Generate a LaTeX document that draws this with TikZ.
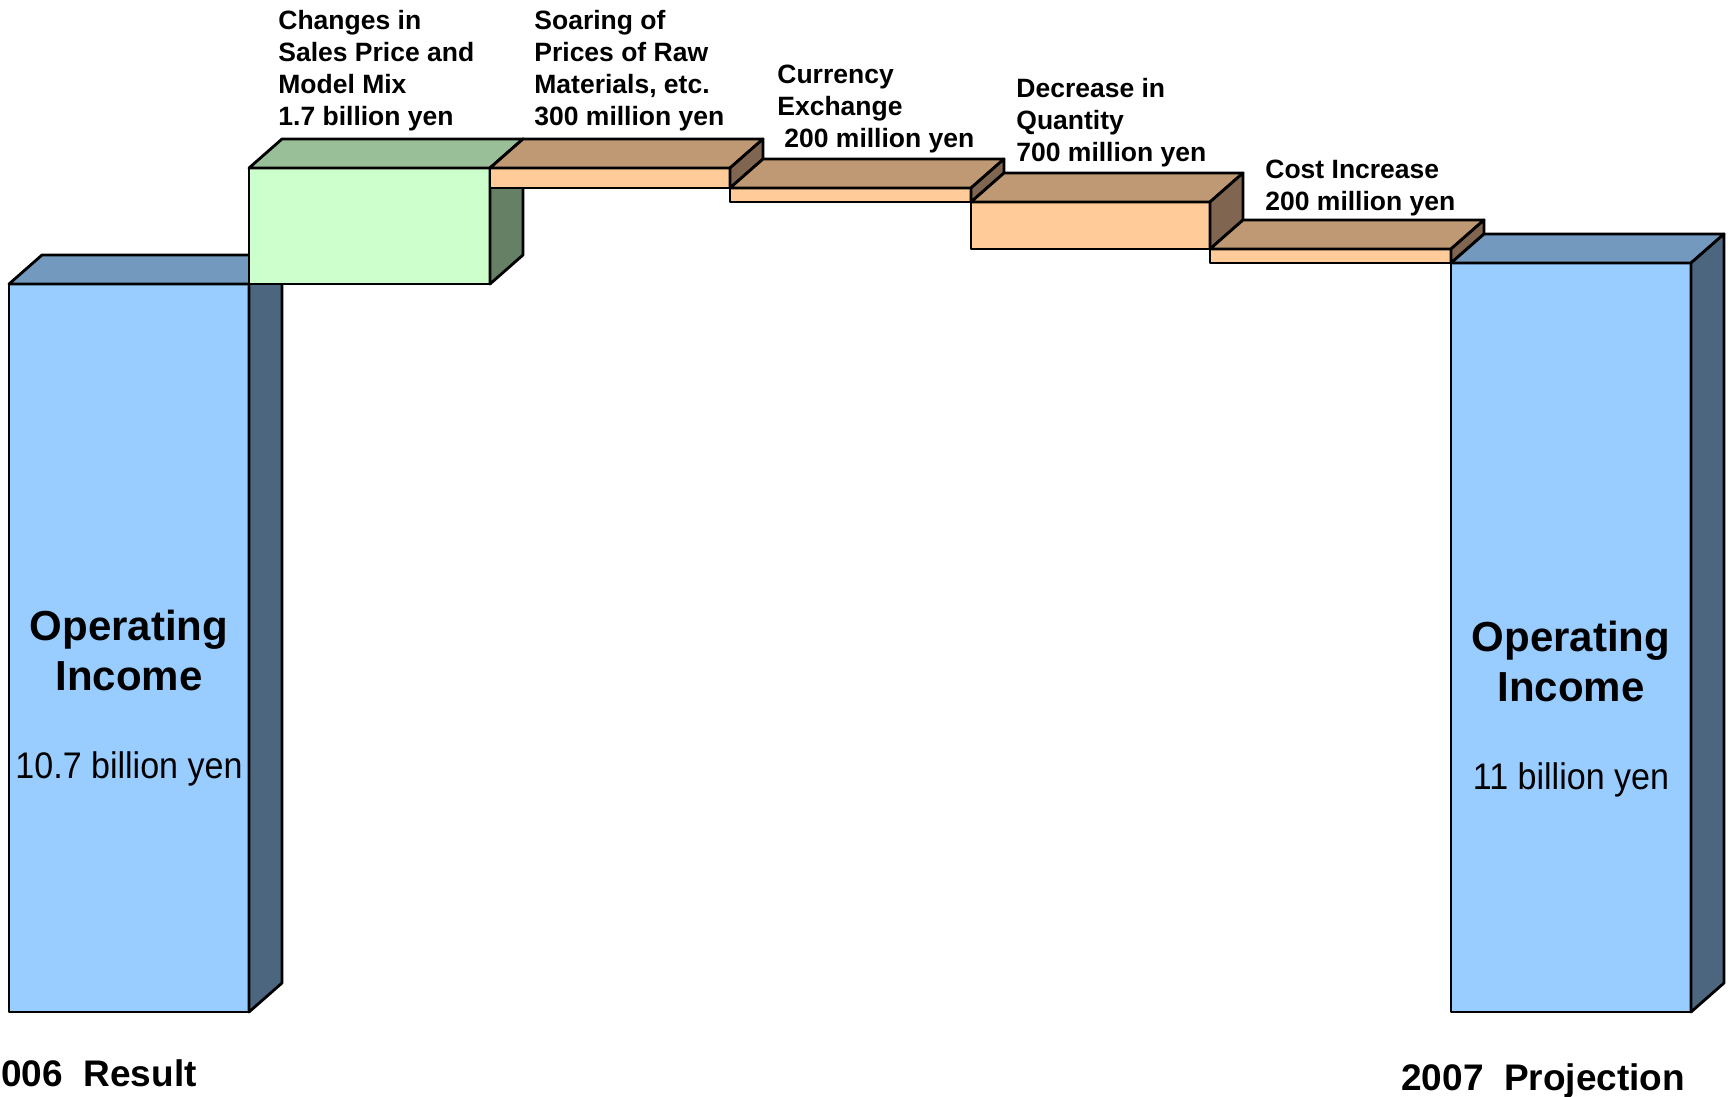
\documentclass[tikz,border=0pt]{standalone}
\usepackage{fontspec}
\setmainfont{Liberation Sans}
\newfontfamily\narrowfont[FakeStretch=0.92]{Liberation Sans}
\definecolor{bluefront}{HTML}{99CCFF}
\definecolor{bluetop}{HTML}{7399BF}
\definecolor{blueside}{HTML}{4D6680}
\definecolor{greenfront}{HTML}{CCFFCC}
\definecolor{greentop}{HTML}{99BF99}
\definecolor{greenside}{HTML}{668066}
\definecolor{orangefront}{HTML}{FFCC99}
\definecolor{browntop}{HTML}{BF9973}
\definecolor{brownside}{HTML}{806650}
% #1 left x, #2 top y, #3 right x, #4 bottom y, #5 front, #6 top, #7 side
\newcommand\drawcuboid[7]{%
  \filldraw[fill=#5] (#1,#2) rectangle (#3,#4);
  \filldraw[fill=#6] (#1,#2) -- (#1+33,#2-29) -- (#3+33,#2-29) -- (#3,#2) -- cycle;
  \filldraw[fill=#7] (#3,#2) -- (#3+33,#2-29) -- (#3+33,#4-29) -- (#3,#4) -- cycle;
}
\begin{document}
\begin{tikzpicture}[x=0.5pt,y=-0.5pt,line width=1.4pt,line join=round,
  lbl/.style={anchor=base west,inner sep=0pt,font=\bfseries\fontsize{13.25}{16}\selectfont},
  bigt/.style={anchor=base,inner sep=0pt,font=\bfseries\fontsize{21}{25}\selectfont},
  valt/.style={anchor=base,inner sep=0pt,font=\narrowfont\fontsize{18.5}{22}\selectfont},
  yeart/.style={anchor=base west,inner sep=0pt,font=\bfseries\fontsize{18.5}{22}\selectfont}]
\useasboundingbox[fill=white] (0,0) rectangle (1730,1097);
% bars and steps
\drawcuboid{9}{284}{249}{1012}{bluefront}{bluetop}{blueside}
\drawcuboid{249}{168}{490}{284}{greenfront}{greentop}{greenside}
\drawcuboid{490}{168}{730}{188}{orangefront}{browntop}{brownside}
\drawcuboid{730}{188}{971}{202}{orangefront}{browntop}{brownside}
\drawcuboid{971}{202}{1210}{249}{orangefront}{browntop}{brownside}
\drawcuboid{1210}{249}{1451}{263}{orangefront}{browntop}{brownside}
\drawcuboid{1451}{263}{1691}{1012}{bluefront}{bluetop}{blueside}
% step labels
\node[lbl] (chg1) at (277,30) {Changes in};
\node[lbl] (chg2) at (277,62) {Sales Price and};
\node[lbl] (chg3) at (277,94) {Model Mix};
\node[lbl] (chg4) at (277,126) {1.7 billion yen};
\node[lbl] (soa1) at (533,30) {Soaring of};
\node[lbl] (soa2) at (533,62) {Prices of Raw};
\node[lbl] (soa3) at (533,94) {Materials, etc.};
\node[lbl] (soa4) at (533,126) {300 million yen};
\node[lbl] (cur1) at (776,84) {Currency};
\node[lbl] (cur2) at (776,116) {Exchange};
\node[lbl] (cur3) at (783,148) {200 million yen};
\node[lbl] (dec1) at (1015,98) {Decrease in};
\node[lbl] (dec2) at (1015,130) {Quantity};
\node[lbl] (dec3) at (1015,162) {700 million yen};
\node[lbl] (cst1) at (1264,178) {Cost Increase};
\node[lbl] (cst2) at (1264,210) {200 million yen};
% bar texts
\node[bigt] (lop) at (129,640) {Operating};
\node[bigt] (linc) at (129,690) {Income};
\node[valt] (lval) at (129,778) {10.7 billion yen};
\node[bigt] (rop) at (1571,651) {Operating};
\node[bigt] (rinc) at (1571,701) {Income};
\node[valt] (rval) at (1571,789) {11 billion yen};
% year labels
\node[yeart] (yl) at (0,1086) {006\ \ Result};
\node[yeart] (yr) at (1400,1090) {2007\ \ Projection};
\end{tikzpicture}
\end{document}
